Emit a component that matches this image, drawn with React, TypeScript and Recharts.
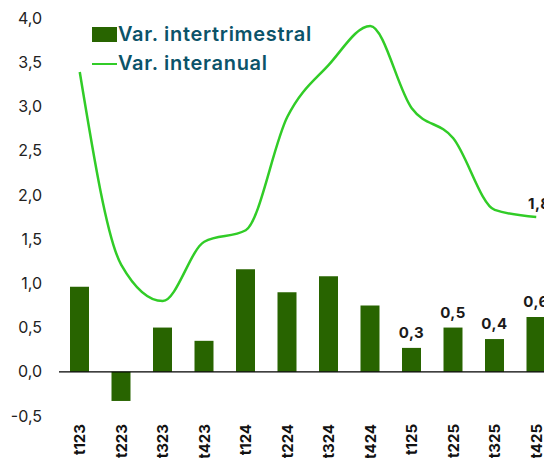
import React from 'react';
import { ComposedChart, Bar, Line, XAxis, YAxis, ReferenceLine, LabelList } from 'recharts';

const quarters = ['t123', 't223', 't323', 't423', 't124', 't224', 't324', 't424', 't125', 't225', 't325', 't425'];
const quarterly = [0.96, -0.33, 0.5, 0.35, 1.16, 0.9, 1.08, 0.75, 0.27, 0.5, 0.37, 0.62];
const yearly = [3.39, 1.21, 0.8, 1.47, 1.6, 2.88, 3.47, 3.91, 2.98, 2.64, 1.83, 1.75];
const yTicks = [-0.5, 0, 0.5, 1, 1.5, 2, 2.5, 3, 3.5, 4];

const BAR_COLOR = '#286400';
const LINE_COLOR = '#31cc27';
const FONT = 'Inter, "Noto Sans", sans-serif';

const data = quarters.map((q, i) => ({ q, quarterly: quarterly[i], yearly: yearly[i] }));

const fmt = (v: number) => v.toFixed(1).replace('.', ',');

const XTick = (props: any) => {
    const { x, y, payload } = props;
    return (
        <text transform={`translate(${x},${y + 8}) rotate(-90)`} textAnchor="end" dy="0.36em"
            fontFamily={FONT} fontSize={15} fontWeight={700} fill="#111">
            {payload.value}
        </text>
    );
};

// only the last four bars carry a label
const BarValue = (props: any) => {
    const { x, y, width, value, index } = props;
    if (index < 8) return null;
    return (
        <text x={x + width / 2} y={y - 10} textAnchor="middle" fontFamily={FONT} fontSize={15}
            fontWeight={700} fill="#1a1a1a" letterSpacing={0.5}>
            {fmt(value)}
        </text>
    );
};

const LineValue = (props: any) => {
    const { x, y, value, index } = props;
    if (index !== quarters.length - 1) return null;
    return (
        <text x={x + 3} y={y - 8} textAnchor="middle" fontFamily={FONT} fontSize={15}
            fontWeight={700} fill="#1a1a1a" letterSpacing={0.5}>
            {fmt(value)}
        </text>
    );
};

const legendText: React.CSSProperties = {
    fontFamily: FONT, fontSize: 20, fontWeight: 600, color: '#0b5369', letterSpacing: 0.7,
    lineHeight: '29px', marginLeft: 1,
};

const LegendBox = () => (
    <div style={{ position: 'absolute', left: 92, top: 20, width: 300 }}>
        <div style={{ display: 'flex', alignItems: 'center' }}>
            <span style={{ width: 25, height: 15, background: BAR_COLOR, display: 'inline-block' }} />
            <span style={legendText}>Var. intertrimestral</span>
        </div>
        <div style={{ display: 'flex', alignItems: 'center' }}>
            <span style={{ width: 25, height: 2, background: LINE_COLOR, display: 'inline-block' }} />
            <span style={legendText}>Var. interanual</span>
        </div>
    </div>
);

export default function App() {
    return (
        <div style={{ margin: -8, width: 552, height: 466, overflow: 'hidden', background: '#fff', position: 'relative' }}>
            <ComposedChart width={560} height={480} data={data}
                margin={{ top: 18, right: 3, bottom: 0, left: 0 }}>
                <XAxis dataKey="q" axisLine={false} tickLine={false} tickSize={0} tickMargin={0}
                    height={64} interval={0} tick={<XTick />} />
                <YAxis domain={[-0.5, 4]} ticks={yTicks} width={59} axisLine={false} tickLine={false}
                    tickSize={0} tickMargin={17} tickFormatter={fmt}
                    tick={{ fontFamily: FONT, fontSize: 16, fill: '#222' }} />
                <Bar dataKey="quarterly" fill={BAR_COLOR} barSize={19} isAnimationActive={false}>
                    <LabelList dataKey="quarterly" content={<BarValue />} />
                </Bar>
                <ReferenceLine y={0} stroke="#000" strokeWidth={1.2} />
                <Line dataKey="yearly" type="monotone" stroke={LINE_COLOR} strokeWidth={2.5} dot={false}
                    isAnimationActive={false}>
                    <LabelList dataKey="yearly" content={<LineValue />} />
                </Line>
            </ComposedChart>
            <LegendBox />
        </div>
    );
}
